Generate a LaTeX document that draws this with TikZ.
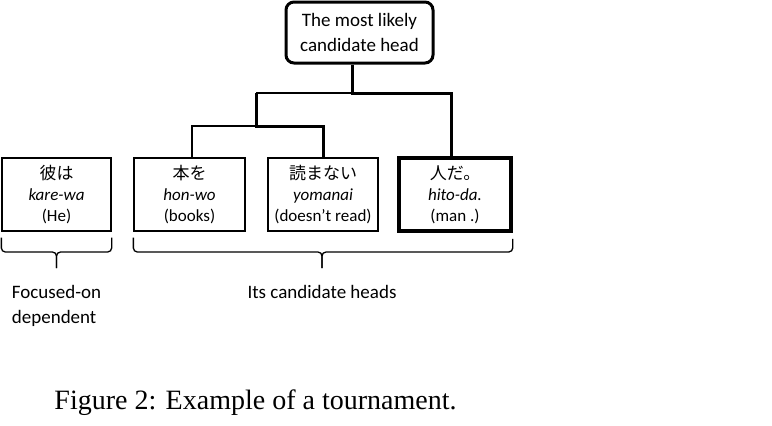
\documentclass[tikz,border=0pt]{standalone}
\usepackage{fontspec}
\setmainfont{Liberation Serif}
\newfontfamily\boxfont{Carlito}
\newfontfamily\jpfont{Noto Sans CJK JP}
\usetikzlibrary{positioning}
\definecolor{color_text}{HTML}{000000}
\tikzset{
  word_box/.style={draw=color_text, line width=1.3pt, minimum height=73pt, inner sep=0pt, align=center, font=\boxfont\fontsize{17}{21}\selectfont, text=color_text},
  winner_box/.style={word_box, line width=3.5pt},
  head_box/.style={draw=color_text, line width=3pt, rounded corners=8pt, minimum width=147pt, minimum height=61pt, inner sep=0pt, align=center, font=\boxfont\fontsize{19}{25}\selectfont, text=color_text},
  win_line/.style={draw=color_text, line width=3pt},
  lose_line/.style={draw=color_text, line width=1.3pt},
  brace_line/.style={draw=color_text, line width=1.3pt, rounded corners=4pt},
  group_label/.style={font=\boxfont\fontsize{19}{25}\selectfont, text=color_text, inner sep=0pt, align=left},
  caption_text/.style={font=\fontsize{28}{34}\selectfont, text=color_text, inner sep=0pt},
}

\begin{document}
\begin{tikzpicture}[x=1pt, y=-1pt]
    \useasboundingbox (0,0) rectangle (772,426);
    \node[head_box] (head) at (359.5,32.5) {The most likely\\candidate head};
    % the four bunsetsu
    \node[word_box, minimum width=109pt] (b1) at (56.5,194.5) {{\jpfont 彼は}\\\textit{kare-wa}\\(He)};
    \node[word_box, minimum width=111pt] (b2) at (189.5,194.5) {{\jpfont 本を}\\\textit{hon-wo}\\(books)};
    \node[word_box, minimum width=110pt] (b3) at (323,194.5) {{\jpfont 読まない}\\\textit{yomanai}\\(doesn’t read)};
    \node[winner_box, minimum width=112pt] (b4) at (455,194.5) {{\jpfont 人だ。}\\\textit{hito-da.}\\(man .)};
    % tournament
    \coordinate (top_join) at (352,93);
    \coordinate (semi_join) at (256,126);
    \draw[win_line] (head.south -| top_join) -- (top_join) -| ([xshift=-4pt]b4.north);
    \draw[lose_line] (top_join) -- (top_join -| semi_join);
    \draw[win_line] (top_join -| semi_join) -- (semi_join) -| (b3.north);
    \draw[lose_line] (semi_join) -| ([xshift=2.5pt]b2.north);
    % braces
    \coordinate (dep_mid) at (56.5,252);
    \coordinate (dep_tip) at (56.5,268);
    \coordinate (cand_mid) at (322,252);
    \coordinate (cand_tip) at (322,268);
    \draw[brace_line] ([yshift=-6pt]b1.south west) |- (dep_mid) -- (dep_tip);
    \draw[brace_line] ([yshift=-6pt]b1.south east) |- (dep_mid) -- (dep_tip);
    \draw[brace_line] ([yshift=-6pt]b2.south west) |- (cand_mid) -- (cand_tip);
    \draw[brace_line] ([yshift=-6pt]b4.south east) |- (cand_mid) -- (cand_tip);
    \node[group_label, below=17pt of dep_tip] (dep_label) {Focused-on\\dependent};
    \node[group_label, below=17pt of cand_tip] (cand_label) {Its candidate heads};
    \node[caption_text] (caption) at (255.5,403) {Figure 2: Example of a tournament.};
\end{tikzpicture}
\end{document}
